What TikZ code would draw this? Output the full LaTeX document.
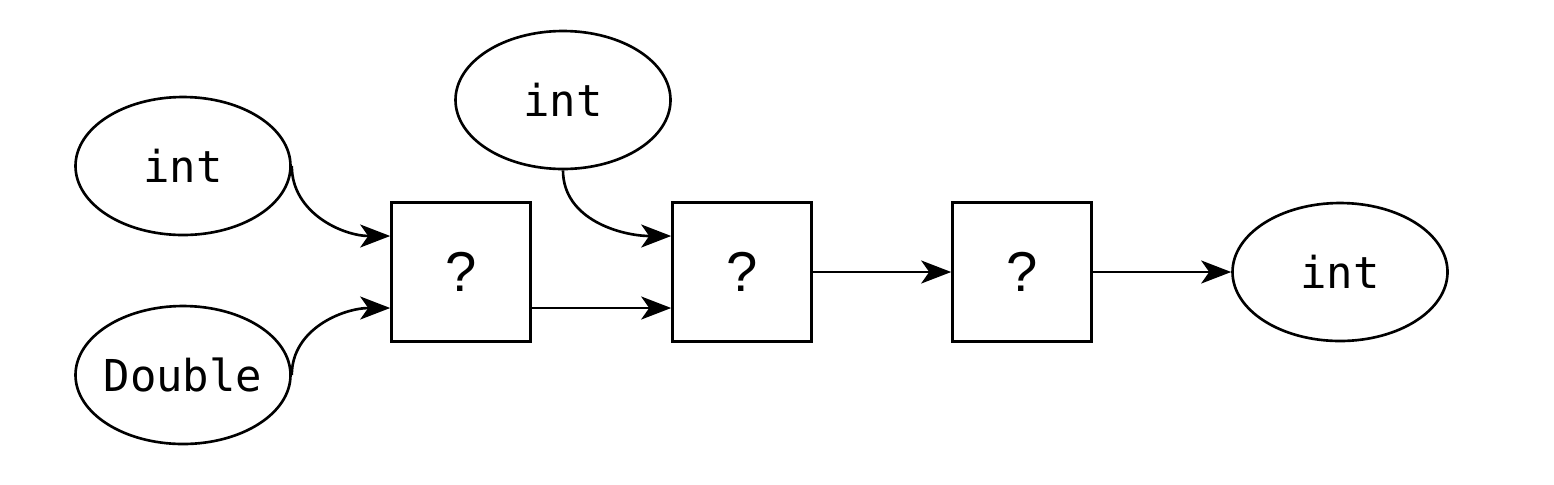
\documentclass[tikz,border=0pt]{standalone}
\usepackage{fontspec}
\setmonofont{DejaVu Sans Mono}
\newfontfamily\qfont{Liberation Sans}
\usetikzlibrary{arrows.meta, shapes.geometric}

\tikzset{
    typ/.style={draw, ellipse, line width=0.75pt, minimum width=2.15cm, minimum height=1.38cm, inner ysep=0pt, inner xsep=-3mm, font=\ttfamily\fontsize{12.5}{14}\selectfont},
    hole/.style={draw, rectangle, line width=0.75pt, minimum size=1.39cm, inner sep=0pt, font=\qfont\fontsize{16}{18}\selectfont},
    flow/.style={-{Stealth[length=3mm, width=2.3mm, inset=0.8mm]}, line width=0.75pt}
}

\begin{document}
\begin{tikzpicture}
        \useasboundingbox (0,0) rectangle (15.54,4.84);

        % Input types
        \node[typ] (in1) at (1.83,3.18) {int};
        \node[typ] (in2) at (1.83,1.09) {Double};
        \node[typ] (in3) at (5.63,3.84) {int};

        % Unknown functions
        \node[hole] (f1) at (4.61,2.12) {?};
        \node[hole] (f2) at (7.42,2.12) {?};
        \node[hole] (f3) at (10.22,2.12) {?};

        % Result type
        \node[typ] (out) at (13.40,2.12) {int};

        % Connections
        \draw[flow] (in1.east) to[out=-90, in=180] ([yshift=3.6mm]f1.west);
        \draw[flow] (in2.east) to[out=90, in=180] ([yshift=-3.6mm]f1.west);
        \draw[flow] (in3.south) to[out=-90, in=180] ([yshift=3.6mm]f2.west);
        \draw[flow] ([yshift=-3.6mm]f1.east) -- ([yshift=-3.6mm]f2.west);
        \draw[flow] (f2) -- (f3);
        \draw[flow] (f3) -- (out);

    \end{tikzpicture}
\end{document}
